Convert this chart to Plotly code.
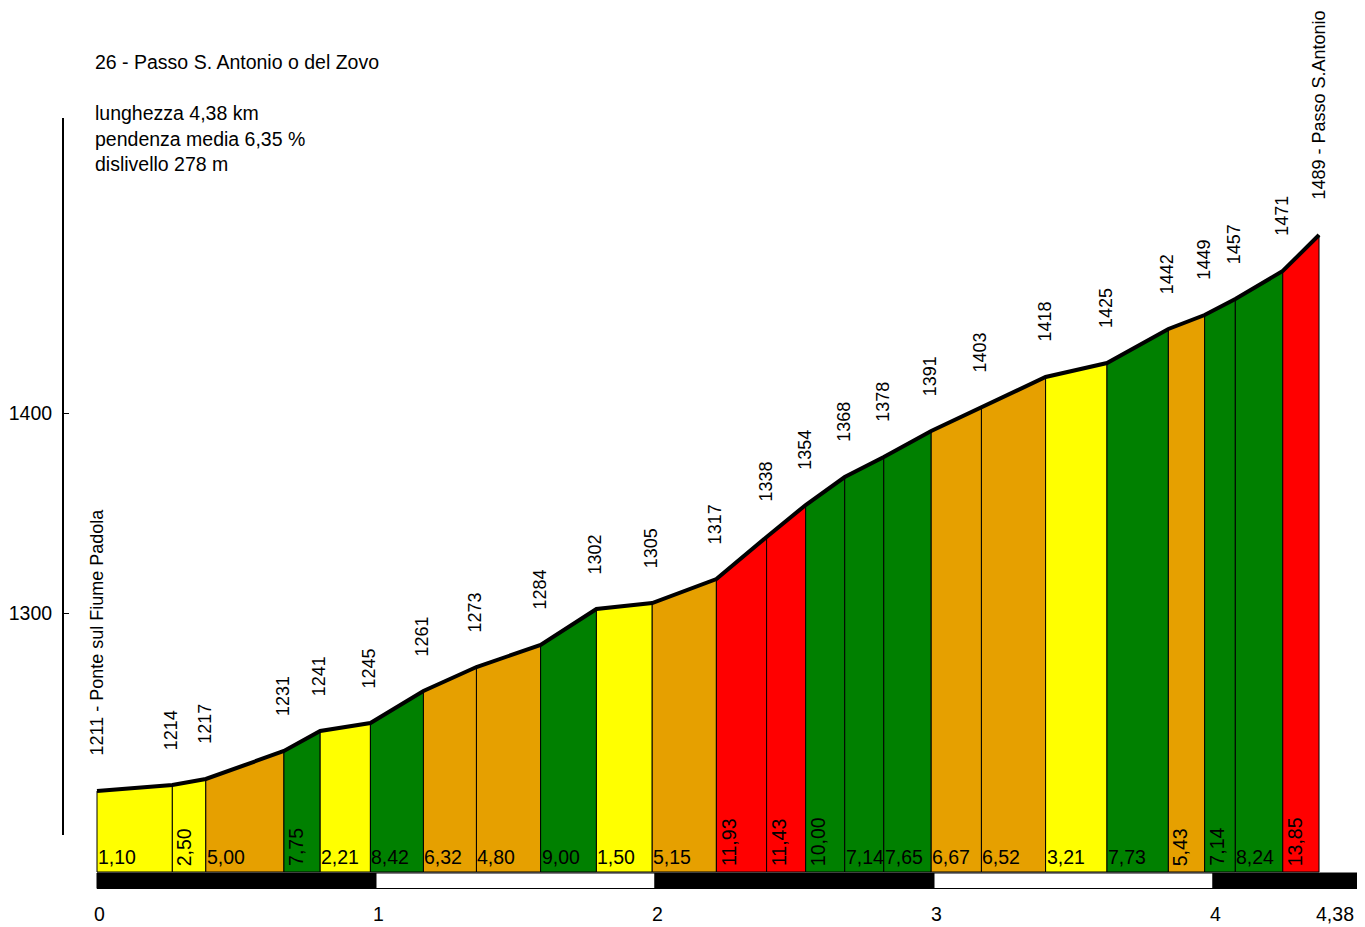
import plotly.graph_objects as go

# ---------------- data ----------------
km = [0.00, 0.27, 0.39, 0.67, 0.80, 0.98, 1.17, 1.36, 1.59, 1.79, 1.99, 2.22, 2.40,
      2.54, 2.68, 2.82, 2.99, 3.17, 3.40, 3.62, 3.84, 3.97, 4.08, 4.25, 4.38]
elev = [1211, 1214, 1217, 1231, 1241, 1245, 1261, 1273, 1284, 1302, 1305, 1317, 1338,
        1354, 1368, 1378, 1391, 1403, 1418, 1425, 1442, 1449, 1457, 1471, 1489]
grade_labels = ["1,10", "2,50", "5,00", "7,75", "2,21", "8,42", "6,32", "4,80", "9,00",
                "1,50", "5,15", "11,93", "11,43", "10,00", "7,14", "7,65", "6,67", "6,52",
                "3,21", "7,73", "5,43", "7,14", "8,24", "13,85"]
start_name = "Ponte sul Fiume Padola"
end_name = "Passo S.Antonio"
title = "26 - Passo S. Antonio o del Zovo"
stats = ["lunghezza 4,38 km", "pendenza media 6,35 %", "dislivello 278 m"]
km_ticks = [0, 1, 2, 3, 4, 4.38]
km_tick_text = ["0", "1", "2", "3", "4", "4,38"]
elev_ticks = [1300, 1400]
base_elev = 1170.5

# ---------------- layout helpers (screen-pixel calibration) ----------------
WIN_W, WIN_H = 1365, 927
OFF = 8                      # page body margin
FIG_W, FIG_H = WIN_W - OFF, WIN_H - OFF
PLOT_BOTTOM = 900            # screen px of plot-area bottom
PX_KM = 279.0
X0 = 97.0


def xkm(px):
    return (px - X0) / PX_KM


def yel(py):
    return 1300 + (613 - py) / 2.0


def frac_y(py):
    return (PLOT_BOTTOM - py) / (PLOT_BOTTOM - OFF)


def color_for(g):
    if g > 10:
        return "#FF0000"
    if g >= 7:
        return "#008000"
    if g >= 4:
        return "#E6A000"
    return "#FFFF00"


FONT = "Liberation Sans, Arial, sans-serif"
BIG = 19.5
fig = go.Figure()

# coloured segments
for i in range(len(km) - 1):
    g = float(grade_labels[i].replace(",", "."))
    fig.add_trace(go.Scatter(
        x=[km[i], km[i], km[i + 1], km[i + 1], km[i]],
        y=[base_elev, elev[i], elev[i + 1], base_elev, base_elev],
        mode="lines", fill="toself", fillcolor=color_for(g),
        line=dict(color="black", width=1), hoverinfo="skip", showlegend=False))

# profile line
fig.add_trace(go.Scatter(x=km, y=elev, mode="lines",
                         line=dict(color="black", width=4),
                         hoverinfo="skip", showlegend=False))

# dummy trace for the visible elevation axis
fig.add_trace(go.Scatter(x=[None], y=[None], yaxis="y2", showlegend=False,
                         hoverinfo="skip"))

annotations = []
# elevation labels
for i, (k, e) in enumerate(zip(km, elev)):
    txt = str(e)
    if i == 0:
        txt = f"{e} - {start_name}"
    elif i == len(km) - 1:
        txt = f"{e} - {end_name}"
    annotations.append(dict(x=k, y=e, xref="x", yref="y", text=txt, showarrow=False,
                            textangle=-90, xanchor="center", yanchor="bottom",
                            yshift=33, xshift=-1,
                            font=dict(family=FONT, size=18, color="black")))

# grade labels
for i, lab in enumerate(grade_labels):
    width = round(km[i + 1] - km[i], 3)
    horizontal = len(lab) <= 4 and width >= 0.14
    if horizontal:
        annotations.append(dict(x=km[i], y=base_elev, text=lab, showarrow=False,
                                xanchor="left", yanchor="bottom", xshift=-1, yshift=2,
                                font=dict(family=FONT, size=BIG, color="black")))
    else:
        annotations.append(dict(x=km[i], y=base_elev, text=lab, showarrow=False,
                                textangle=-90, xanchor="left", yanchor="bottom",
                                xshift=-1, yshift=4,
                                font=dict(family=FONT, size=BIG, color="black")))

# title and stats
annotations.append(dict(x=xkm(93), y=yel(62), text=title, showarrow=False,
                        xanchor="left", yanchor="middle",
                        font=dict(family=FONT, size=BIG, color="black")))
for j, s in enumerate(stats):
    annotations.append(dict(x=xkm(93), y=yel(113 + 25.5 * j), text=s, showarrow=False,
                            xanchor="left", yanchor="middle",
                            font=dict(family=FONT, size=BIG, color="black")))

# km bar
shapes = []
bar_top, bar_bot = yel(873), yel(888.5)
x_end = xkm(WIN_W)
edges = [0, 1, 2, 3, 4, x_end]
for i in range(len(edges) - 1):
    fill = "black" if i % 2 == 0 else "white"
    shapes.append(dict(type="rect", xref="x", yref="y", x0=edges[i], x1=edges[i + 1],
                       y0=bar_bot, y1=bar_top, fillcolor=fill,
                       line=dict(color="black", width=1)))

fig.update_layout(
    width=FIG_W, height=FIG_H,
    margin=dict(l=0, r=0, t=0, b=WIN_H - PLOT_BOTTOM, pad=0),
    paper_bgcolor="white", plot_bgcolor="rgba(0,0,0,0)",
    xaxis=dict(range=[xkm(OFF), xkm(WIN_W)], showgrid=False, zeroline=False,
               showline=False, tickvals=km_ticks, ticktext=km_tick_text, ticks="",
               ticklabelposition="outside right", ticklabelshift=-3,
               tickfont=dict(family=FONT, size=BIG, color="black"), fixedrange=True),
    yaxis=dict(range=[yel(PLOT_BOTTOM), yel(OFF)], visible=False, fixedrange=True),
    yaxis2=dict(range=[yel(835), yel(118)],
                domain=[frac_y(835), frac_y(118)],
                anchor="free", position=(63 - OFF) / FIG_W, side="left",
                showline=True, linecolor="black", linewidth=2,
                ticks="inside", ticklen=5, tickcolor="black", tickwidth=1,
                tickvals=elev_ticks, showgrid=False, zeroline=False,
                ticklabelstandoff=6,
                tickfont=dict(family=FONT, size=BIG, color="black"), fixedrange=True),
    annotations=annotations, shapes=shapes, showlegend=False,
)

fig.write_html("out.html")
